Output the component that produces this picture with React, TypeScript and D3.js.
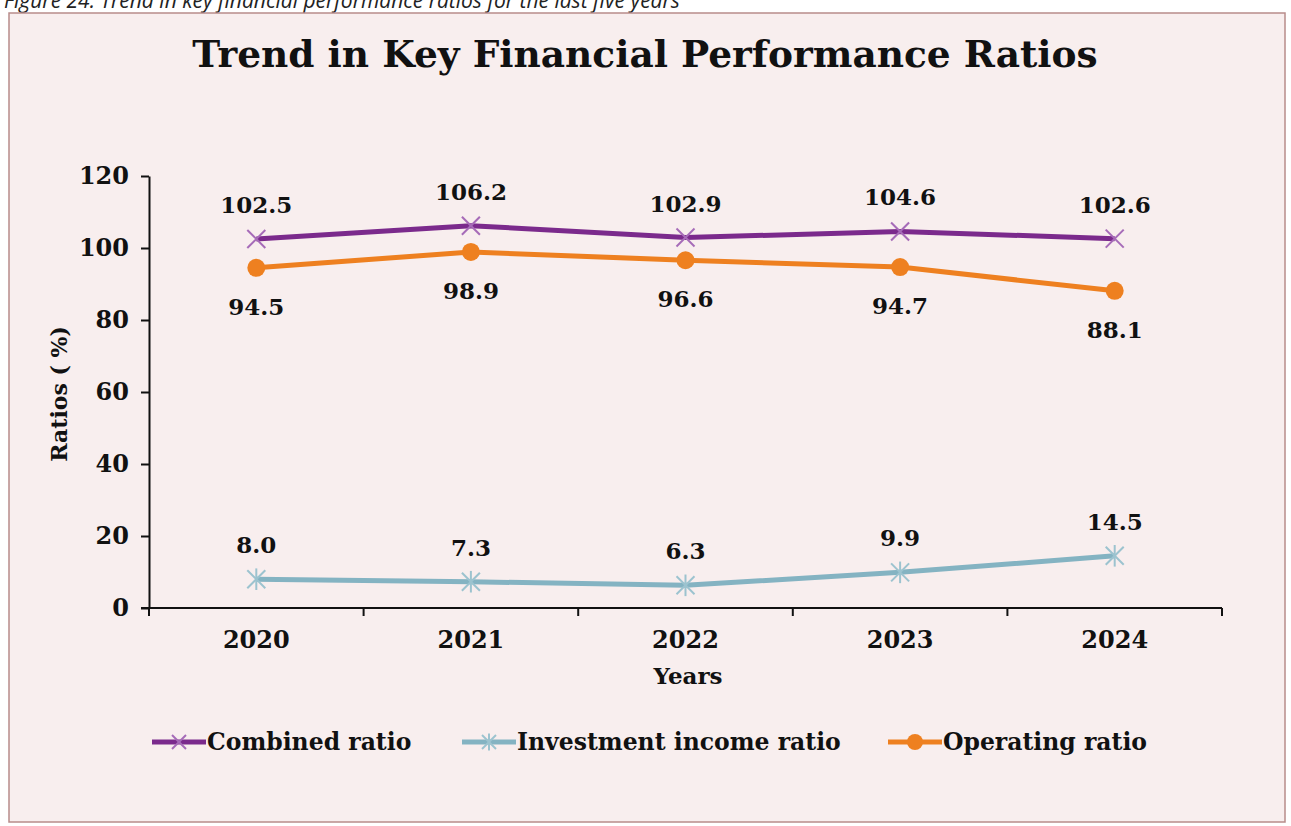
import * as d3 from 'd3';
import { useEffect, useRef } from 'react';

const years = ['2020', '2021', '2022', '2023', '2024'];
const combinedRatio = [102.5, 106.2, 102.9, 104.6, 102.6];
const investmentIncomeRatio = [8.0, 7.3, 6.3, 9.9, 14.5];
const operatingRatio = [94.5, 98.9, 96.6, 94.7, 88.1];
const yTicks = [0, 20, 40, 60, 80, 100, 120];

const seriesNames = ['Combined ratio', 'Investment income ratio', 'Operating ratio'];

const W = 1291;
const H = 826;
const FONT = 'DejaVu Serif, Georgia, serif';

const App = () => {
  const ref = useRef<SVGSVGElement | null>(null);

  useEffect(() => {
    if (!ref.current) return;
    const svg = d3.select(ref.current);
    svg.selectAll('*').remove();

    const margin = { left: 149, right: 69, top: 176, bottom: 218 };

    // caption of the page, cut off at the top like the scan
    svg
      .append('text')
      .attr('x', 4)
      .attr('y', 8)
      .attr('font-family', 'Open Sans, sans-serif')
      .attr('font-style', 'italic')
      .attr('font-weight', 400)
      .attr('font-size', 21)
      .attr('fill', '#222')
      .text('Figure 24: Trend in key financial performance ratios for the last five years');

    // chart frame
    svg
      .append('rect')
      .attr('x', 9)
      .attr('y', 13)
      .attr('width', 1276)
      .attr('height', 809)
      .attr('fill', '#f8eeee')
      .attr('stroke', '#b88c8a')
      .attr('stroke-width', 1.5);

    svg
      .append('text')
      .attr('x', 645)
      .attr('y', 67)
      .attr('text-anchor', 'middle')
      .attr('font-family', FONT)
      .attr('font-weight', 'bold')
      .attr('font-size', 37.5)
      .attr('fill', '#111')
      .text('Trend in Key Financial Performance Ratios');

    const x = d3
      .scaleBand()
      .domain(years)
      .range([margin.left, W - margin.right])
      .paddingInner(0)
      .paddingOuter(0);

    const y = d3
      .scaleLinear()
      .domain([0, 120])
      .range([H - margin.bottom, margin.top]);

    const cx = (d: string) => x(d)! + x.bandwidth() / 2;

    // y axis
    const yAxis = svg
      .append('g')
      .attr('transform', `translate(${margin.left},0)`)
      .call(d3.axisLeft(y).tickValues(yTicks).tickSize(8).tickSizeOuter(0).tickPadding(12));
    yAxis.select('.domain').attr('stroke', '#111').attr('stroke-width', 2);
    yAxis.selectAll('.tick line').attr('stroke', '#111').attr('stroke-width', 2);
    yAxis
      .selectAll('text')
      .attr('font-family', FONT)
      .attr('font-weight', 'bold')
      .attr('font-size', 24)
      .attr('fill', '#111');

    // x axis, ticks between categories
    const xAxis = svg.append('g').attr('transform', `translate(0,${y(0)})`);
    xAxis
      .append('line')
      .attr('x1', margin.left - 8)
      .attr('x2', W - margin.right)
      .attr('stroke', '#111')
      .attr('stroke-width', 2);
    const bounds = [...years.map((d) => x(d)!), W - margin.right];
    xAxis
      .selectAll('line.tick')
      .data(bounds)
      .join('line')
      .attr('class', 'tick')
      .attr('x1', (d) => d)
      .attr('x2', (d) => d)
      .attr('y1', 0)
      .attr('y2', 8)
      .attr('stroke', '#111')
      .attr('stroke-width', 2);
    xAxis
      .selectAll('text')
      .data(years)
      .join('text')
      .attr('x', (d) => cx(d))
      .attr('y', 40)
      .attr('text-anchor', 'middle')
      .attr('font-family', FONT)
      .attr('font-weight', 'bold')
      .attr('font-size', 24)
      .attr('fill', '#111')
      .text((d) => d);

    svg
      .append('text')
      .attr('x', 688)
      .attr('y', 684)
      .attr('text-anchor', 'middle')
      .attr('font-family', FONT)
      .attr('font-weight', 'bold')
      .attr('font-size', 23)
      .attr('fill', '#111')
      .text('Years');

    svg
      .append('text')
      .attr('transform', `translate(67,394) rotate(-90)`)
      .attr('text-anchor', 'middle')
      .attr('font-family', FONT)
      .attr('font-weight', 'bold')
      .attr('font-size', 22)
      .attr('fill', '#111')
      .text('Ratios ( %)');

    const line = d3
      .line<number>()
      .x((_, i) => cx(years[i]))
      .y((d) => y(d));

    const series = [
      { name: seriesNames[0], values: combinedRatio, color: '#7b2a8c', mark: '#a66bb8', marker: 'x', labelDy: -34 },
      { name: seriesNames[1], values: investmentIncomeRatio, color: '#84b3c2', mark: '#9cc3cf', marker: 'star', labelDy: -34 },
      { name: seriesNames[2], values: operatingRatio, color: '#ee8020', mark: '#ee8020', marker: 'circle', labelDy: 39 },
    ];

    const drawMarker = (g: d3.Selection<SVGGElement, unknown, null, undefined>, type: string, color: string, size: number) => {
      if (type === 'circle') {
        g.append('circle').attr('r', size).attr('fill', color);
      } else {
        const s = size;
        g.append('line').attr('x1', -s).attr('y1', -s).attr('x2', s).attr('y2', s).attr('stroke', color).attr('stroke-width', 2);
        g.append('line').attr('x1', -s).attr('y1', s).attr('x2', s).attr('y2', -s).attr('stroke', color).attr('stroke-width', 2);
        if (type === 'star') {
          g.append('line').attr('x1', 0).attr('y1', -s * 1.2).attr('x2', 0).attr('y2', s * 1.2).attr('stroke', color).attr('stroke-width', 2);
        }
      }
    };

    series.forEach((s) => {
      svg
        .append('path')
        .datum(s.values)
        .attr('d', line)
        .attr('fill', 'none')
        .attr('stroke', s.color)
        .attr('stroke-width', 5)
        .attr('stroke-linejoin', 'round');

      s.values.forEach((v, i) => {
        const g = svg.append('g').attr('transform', `translate(${cx(years[i])},${y(v)})`);
        drawMarker(g, s.marker, s.mark, 9);
      });

      svg
        .append('g')
        .selectAll('text')
        .data(s.values)
        .join('text')
        .attr('x', (_, i) => cx(years[i]))
        .attr('y', (d) => y(d) + s.labelDy)
        .attr('dy', '0.35em')
        .attr('text-anchor', 'middle')
        .attr('font-family', FONT)
        .attr('font-weight', 'bold')
        .attr('font-size', 23)
        .attr('fill', '#111')
        .text((d) => d.toFixed(1));
    });

    // legend
    const legendX = [152, 462, 888];
    const legendY = 742;
    series.forEach((s, i) => {
      const g = svg.append('g').attr('transform', `translate(${legendX[i]},${legendY})`);
      g.append('line').attr('x1', 0).attr('x2', 54).attr('stroke', s.color).attr('stroke-width', 5);
      const m = g.append('g').attr('transform', 'translate(27,0)');
      drawMarker(m, s.marker, s.mark, s.marker === 'circle' ? 8 : 7);
      g.append('text')
        .attr('x', 55)
        .attr('dy', '0.35em')
        .attr('font-family', FONT)
        .attr('font-weight', 'bold')
        .attr('font-size', 23.5)
        .attr('fill', '#111')
        .text(s.name);
    });
  }, []);

  return (
    <svg
      ref={ref}
      width={W}
      height={H}
      style={{ position: 'absolute', left: 0, top: 0, background: '#fff' }}
    />
  );
};

export default App;
